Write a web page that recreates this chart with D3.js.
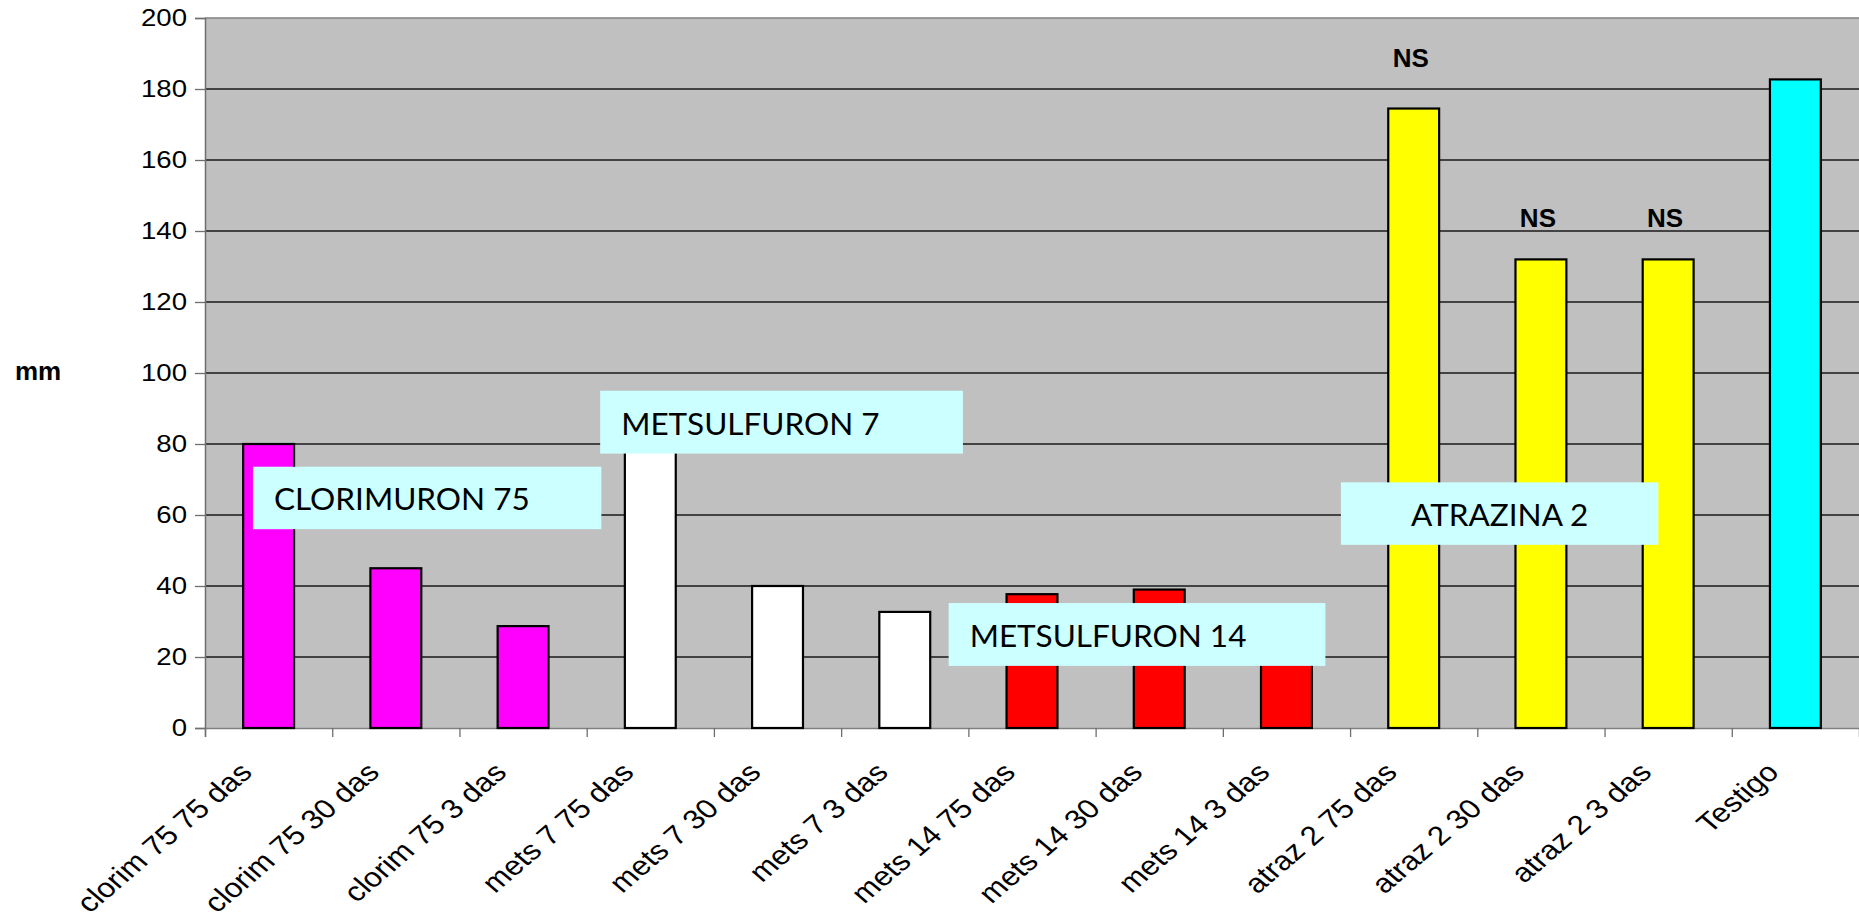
<!DOCTYPE html>
<html><head><meta charset="utf-8">
<script src="https://cdnjs.cloudflare.com/ajax/libs/d3/7.8.5/d3.min.js"></script>
<style>body{margin:0;background:#fff;}svg{display:block;}</style>
</head><body>
<svg id="c" width="1859" height="920"></svg>
<script>
const categories = ["clorim 75 75 das","clorim 75 30 das","clorim 75 3 das","mets 7 75 das","mets 7 30 das","mets 7 3 das","mets 14 75 das","mets 14 30 das","mets 14 3 das","atraz 2 75 das","atraz 2 30 das","atraz 2 3 das","Testigo"];
const values = [80, 45, 28.7, 85, 40, 32.7, 37.7, 39, 30, 174.5, 132, 132, 182.7];
const colors = ["#FF00FF","#FF00FF","#FF00FF","#FFFFFF","#FFFFFF","#FFFFFF","#FF0000","#FF0000","#FF0000","#FFFF00","#FFFF00","#FFFF00","#00FFFF"];
const nsLabels = ["","","","","","","","","","NS","NS","NS",""];
const nsLabelY = [0,0,0,0,0,0,0,0,0,186.2,141.2,141.2,0];
const yTicks = [0,20,40,60,80,100,120,140,160,180,200];
const annotations = ["CLORIMURON 75","METSULFURON 7","METSULFURON 14","ATRAZINA 2"];
const annX0 = [0.377, 3.106, 5.845, 8.928];
const annX1 = [3.115, 5.957, 8.806, 11.423];
const annYTop = [73.6, 95, 35.2, 69.2];
const annYBot = [56, 77.3, 17.5, 51.6];
const annCentered = [0,0,0,1];

const svg = d3.select("#c");
const m = {l:205, t:18, r:0, b:192};
const W = 1859, H = 920;
const SX = 1.15;
const x = d3.scaleBand().domain(categories).range([m.l, W - m.r]).paddingInner(0.6).paddingOuter(0.3);
const xc = d3.scaleLinear().domain([0, categories.length]).range([m.l, W - m.r]);
const y = d3.scaleLinear().domain([0,200]).range([H - m.b, m.t]);

svg.append("rect").attr("x", m.l).attr("y", y(200)).attr("width", W - m.r - m.l).attr("height", y(0)-y(200)).attr("fill","#C0C0C0");

svg.append("g").selectAll("line").data(yTicks.filter(d=>d>0 && d<200)).join("line")
  .attr("x1", m.l).attr("x2", W).attr("y1", d=>y(d)).attr("y2", d=>y(d))
  .attr("stroke","#1a1a1a").attr("stroke-width",1.3);
svg.append("line").attr("x1", m.l).attr("x2", W).attr("y1", y(200)).attr("y2", y(200)).attr("stroke","#808080").attr("stroke-width",1.5);

const ya = svg.append("g").attr("transform",`translate(${m.l},0)`)
  .call(d3.axisLeft(y).tickValues(yTicks).tickSize(10).tickPadding(8));
ya.select(".domain").attr("stroke","#6e6e6e").attr("stroke-width",1.5);
ya.selectAll(".tick line").attr("stroke","#6e6e6e").attr("stroke-width",1.3);
ya.selectAll("text").attr("font-family","Liberation Sans, Arial, sans-serif").attr("font-size",24).attr("fill","#000")
  .attr("x", -18/SX).attr("transform",`scale(${SX},1)`);

const xa = svg.append("g").attr("transform",`translate(0,${y(0)})`)
  .call(d3.axisBottom(xc).tickValues(d3.range(0, categories.length)).tickSize(9).tickFormat(""));
xa.select(".domain").attr("stroke","#808080").attr("stroke-width",1.5);
xa.selectAll(".tick line").attr("stroke","#6e6e6e").attr("stroke-width",1.3);

svg.append("g").selectAll("text").data(categories).join("text")
  .attr("transform", d=>`translate(${x(d)+x.bandwidth()/2-15},${y(0)+46}) scale(1.17,1) rotate(-45)`)
  .attr("text-anchor","end")
  .attr("font-family","Liberation Sans, Arial, sans-serif").attr("font-size",27)
  .text(d=>d);

svg.append("g").selectAll("rect").data(values).join("rect")
  .attr("x",(d,i)=>x(categories[i])).attr("y",d=>y(d))
  .attr("width",x.bandwidth()).attr("height",d=>y(0)-y(d))
  .attr("fill",(d,i)=>colors[i]).attr("stroke","#000").attr("stroke-width",2.2);

svg.append("g").selectAll("text").data(categories.map((c,i)=>i).filter(i=>nsLabels[i])).join("text")
  .attr("x",i=>x(categories[i])+x.bandwidth()/2 - 3).attr("y",i=>y(nsLabelY[i]))
  .attr("text-anchor","middle").attr("font-family","Liberation Sans, Arial, sans-serif")
  .attr("font-weight","bold").attr("font-size",26).text(i=>nsLabels[i]);

const ag = svg.append("g").selectAll("g").data(annotations).join("g");
ag.append("rect").attr("x",(d,i)=>xc(annX0[i])).attr("y",(d,i)=>y(annYTop[i]))
  .attr("width",(d,i)=>xc(annX1[i])-xc(annX0[i])).attr("height",(d,i)=>y(annYBot[i])-y(annYTop[i]))
  .attr("fill","#CCFFFF");
ag.append("text")
  .attr("x",(d,i)=> annCentered[i] ? (xc(annX0[i])+xc(annX1[i]))/2 : xc(annX0[i])+21)
  .attr("y",(d,i)=>(y(annYTop[i])+y(annYBot[i]))/2 + 12.5)
  .attr("text-anchor",(d,i)=>annCentered[i]?"middle":"start")
  .attr("font-family","Lato, 'Open Sans', sans-serif").attr("font-size",31.5).attr("fill","#000")
  .text(d=>d);

svg.append("text").attr("x",38).attr("y",380).attr("text-anchor","middle")
  .attr("font-family","Liberation Sans, Arial, sans-serif").attr("font-weight","bold").attr("font-size",26).text("mm");
</script>
</body></html>
